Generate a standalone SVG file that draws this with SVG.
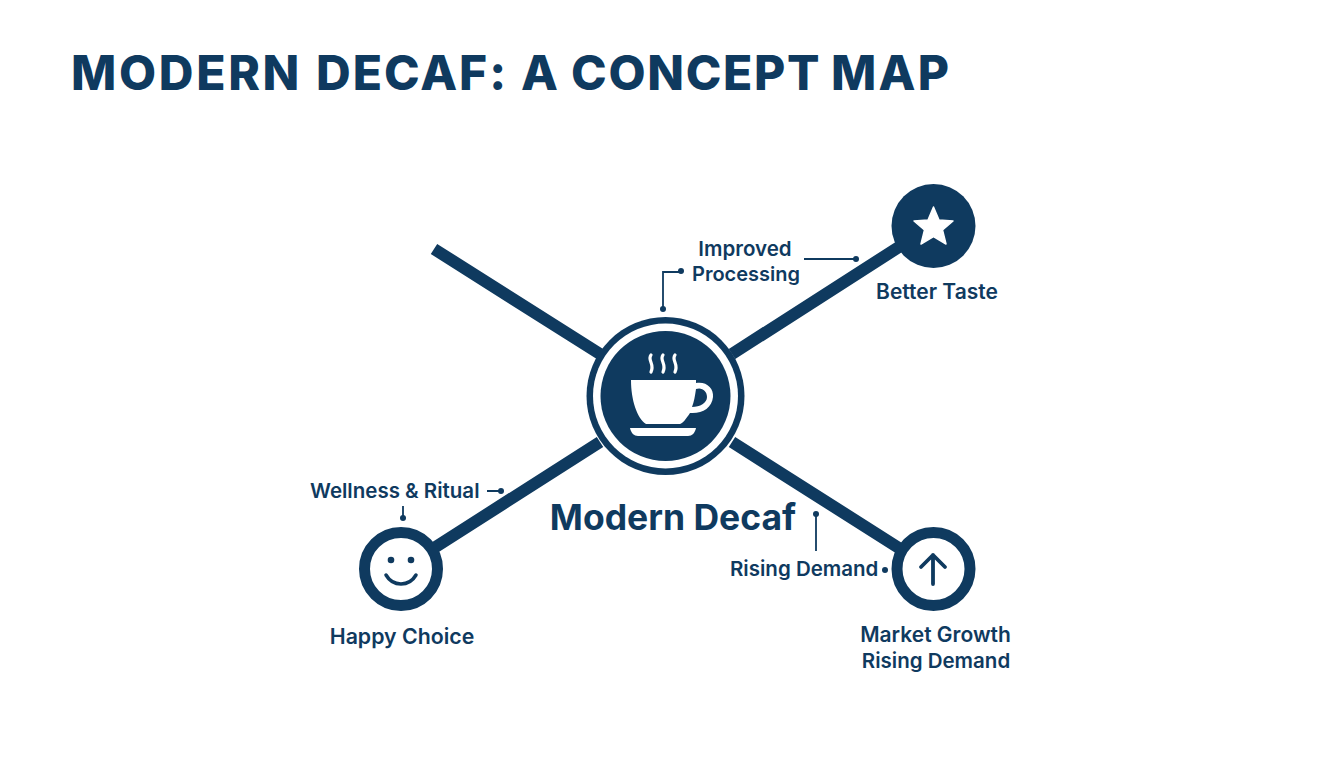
<svg xmlns="http://www.w3.org/2000/svg" width="1344" height="768" viewBox="0 0 1344 768">
<style>
text{font-family:"Inter","Noto Sans","Liberation Sans",sans-serif;fill:#0f3a5f;font-weight:600;font-size:20.500px}
.t{font-size:48px;font-weight:800;letter-spacing:2.300px}
.m{font-size:35.500px;font-weight:700;text-anchor:middle}
.c{text-anchor:middle}
.a{fill:#0f3a5f}
.w{fill:#fff}
.l{stroke:#0f3a5f;stroke-width:12;fill:none}
.s{stroke:#0f3a5f;stroke-width:1.800;fill:none}
</style>
<rect width="1344" height="768" fill="#fff"/>
<text class="t" x="71" y="90"><tspan x="71" style="letter-spacing:2.700px">MODERN</tspan> <tspan x="316" style="letter-spacing:2px">DECAF:</tspan> <tspan x="521">A</tspan> <tspan x="571" style="letter-spacing:1.700px">CONCEPT</tspan> <tspan x="831">MAP</tspan></text>
<g id="connectors">
<path class="l" d="M434 249L600 354M732 354L902 245M600 442L434 548M732 442L902 550"/>
<path class="s" d="M663 309V272H680M804 259H856M487 491H501M403 506V517M816 514V551"/>
<g class="a"><circle cx="663" cy="309" r="3"/><circle cx="681" cy="271" r="3"/><circle cx="856" cy="259" r="3"/><circle cx="501" cy="491" r="3"/><circle cx="403" cy="518" r="3"/><circle cx="816" cy="514" r="3"/><circle cx="885" cy="570" r="3"/></g>
</g>
<g id="center">
<circle class="a" cx="665.500" cy="396" r="79"/><circle class="w" cx="665.500" cy="396" r="72.500"/><circle class="a" cx="665.500" cy="396" r="65"/>
<path class="w" d="M631 380H696V383C706 381 714 388 713 397C712 408 702 414 690 413C686 419 683 423 680 424H646C637 418 631 400 631 380ZM696 389C695 396 694 402 692 407C700 407 707 403 707 397C707 391 702 387 696 389Z"/>
<path class="w" d="M630 428H696C695 433 692 436 688 436H638C634 436 631 433 630 428Z"/>
<path d="M651 355C647 360 655 364 651 372M663 355C659 360 667 364 663 372M675 355C671 360 679 364 675 372" stroke="#fff" stroke-width="3.200" stroke-linecap="round" fill="none"/>
<text class="m" x="673" y="530">Modern Decaf</text>
</g>
<g id="taste">
<circle class="a" cx="933.500" cy="226" r="42"/>
<path class="w" stroke="#fff" stroke-width="1.500" stroke-linejoin="round" d="M933.500 207L939 220L953 221L942.500 230L946 244L933.500 236.500L921 244L924.500 230L914 221L928 220Z"/>
<text class="c" x="937" y="299" style="font-size:21px">Better Taste</text>
</g>
<g id="processing">
<text class="c" x="745" y="256">Improved</text>
<text class="c" x="746" y="281" style="font-size:20px">Processing</text>
</g>
<g id="wellness">
<text x="310" y="498">Wellness &amp; Ritual</text>
</g>
<g id="happy">
<circle cx="401" cy="569" r="36.500" fill="#fff" stroke="#0f3a5f" stroke-width="11"/>
<circle class="a" cx="391" cy="560" r="3.300"/><circle class="a" cx="411" cy="560" r="3.300"/>
<path d="M386 575C393 587 409 587 416 575" stroke="#0f3a5f" stroke-width="3.500" stroke-linecap="round" fill="none"/>
<text class="c" x="402" y="644" style="font-size:21.300px">Happy Choice</text>
</g>
<g id="demand">
<text x="730" y="576">Rising Demand</text>
</g>
<g id="growth">
<circle cx="933.500" cy="569" r="36.500" fill="#fff" stroke="#0f3a5f" stroke-width="11"/>
<path d="M933 584V555M921 567L933 555L945 567" stroke="#0f3a5f" stroke-width="3.800" stroke-linecap="round" stroke-linejoin="round" fill="none"/>
<text class="c" x="935.500" y="642" style="font-size:21px">Market Growth</text>
<text class="c" x="936" y="668">Rising Demand</text>
</g>
</svg>
